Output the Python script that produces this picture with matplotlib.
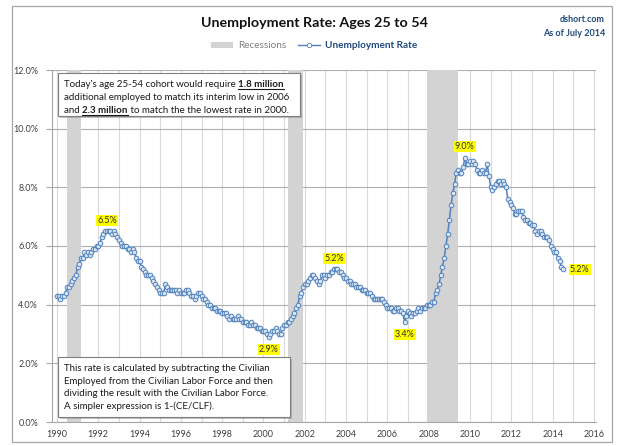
import matplotlib
matplotlib.use("Agg")
import matplotlib.pyplot as plt
import numpy as np
from matplotlib.lines import Line2D
from matplotlib.patches import Patch, Rectangle

# Arbeitslosenquote 25-54, monatlich Jan 1990 bis Jul 2014
start_year = 1990
rate = [
    4.3, 4.3, 4.2, 4.3, 4.3, 4.4, 4.6, 4.6, 4.7, 4.8, 4.9, 5.0,  # 1990
    5.3, 5.4, 5.6, 5.6, 5.8, 5.7, 5.8, 5.7, 5.8, 5.9, 5.9, 6.0,  # 1991
    6.0, 6.1, 6.3, 6.4, 6.5, 6.5, 6.5, 6.5, 6.4, 6.5, 6.4, 6.3,  # 1992
    6.2, 6.1, 6.0, 6.0, 6.0, 5.9, 5.9, 5.8, 5.9, 5.8, 5.6, 5.5,  # 1993
    5.5, 5.3, 5.2, 5.1, 5.0, 5.0, 5.0, 4.9, 4.8, 4.7, 4.6, 4.5,  # 1994
    4.4, 4.4, 4.4, 4.7, 4.6, 4.5, 4.5, 4.5, 4.5, 4.5, 4.4, 4.5,  # 1995
    4.4, 4.4, 4.4, 4.5, 4.5, 4.4, 4.3, 4.3, 4.2, 4.3, 4.4, 4.4,  # 1996
    4.3, 4.2, 4.2, 4.1, 4.0, 4.0, 3.9, 3.9, 3.9, 3.8, 3.8, 3.8,  # 1997
    3.7, 3.7, 3.7, 3.6, 3.5, 3.6, 3.5, 3.5, 3.5, 3.6, 3.5, 3.5,  # 1998
    3.4, 3.4, 3.4, 3.3, 3.3, 3.4, 3.3, 3.3, 3.2, 3.2, 3.2, 3.1,  # 1999
    3.1, 3.1, 3.0, 2.9, 3.0, 3.1, 3.1, 3.2, 3.1, 3.0, 3.0, 3.2,  # 2000
    3.3, 3.3, 3.4, 3.4, 3.5, 3.6, 3.7, 3.9, 4.0, 4.3, 4.4, 4.6,  # 2001
    4.7, 4.7, 4.8, 4.9, 5.0, 5.0, 4.9, 4.8, 4.7, 4.8, 5.0, 5.0,  # 2002
    4.9, 5.0, 5.0, 5.1, 5.1, 5.2, 5.2, 5.2, 5.1, 5.1, 5.0, 4.9,  # 2003
    4.9, 4.8, 4.8, 4.7, 4.7, 4.7, 4.6, 4.6, 4.6, 4.5, 4.5, 4.5,  # 2004
    4.4, 4.4, 4.4, 4.3, 4.2, 4.2, 4.2, 4.2, 4.2, 4.2, 4.1, 4.0,  # 2005
    3.9, 3.9, 3.9, 3.8, 3.8, 3.9, 3.9, 3.8, 3.8, 3.7, 3.4, 3.6,  # 2006
    3.8, 3.7, 3.6, 3.7, 3.7, 3.8, 3.9, 3.8, 3.9, 3.9, 3.9, 4.0,  # 2007
    4.0, 4.0, 4.1, 4.1, 4.4, 4.5, 4.7, 5.0, 5.3, 5.6, 6.0, 6.4,  # 2008
    6.9, 7.4, 7.8, 8.1, 8.5, 8.6, 8.5, 8.5, 8.7, 9.0, 8.8, 8.8,  # 2009
    8.9, 8.8, 8.9, 8.8, 8.6, 8.5, 8.5, 8.6, 8.5, 8.5, 8.8, 8.4,  # 2010
    8.0, 7.9, 8.0, 8.1, 8.2, 8.2, 8.1, 8.2, 8.1, 8.0, 7.6, 7.5,  # 2011
    7.4, 7.3, 7.1, 7.1, 7.2, 7.2, 7.2, 7.0, 6.9, 6.9, 6.8, 6.8,  # 2012
    6.7, 6.7, 6.5, 6.4, 6.5, 6.5, 6.4, 6.3, 6.3, 6.3, 6.2, 6.0,  # 2013
    5.9, 5.8, 5.8, 5.6, 5.5, 5.3, 5.2,                           # 2014
]

# Rezessionen (Beginn, Ende) in Dezimaljahren
recessions = [(1990.5, 1991.17), (2001.17, 2001.92), (2007.92, 2009.42)]

# hervorgehobene Werte: (Index im Array, Text, Versatz in Punkten)
highlights = [
    (29, "6.5%", (0, 8)),
    (123, "2.9%", (0, -9)),
    (161, "5.2%", (0, 8)),
    (202, "3.4%", (0, -9)),
    (237, "9.0%", (0, 8)),
    (len(rate) - 1, "5.2%", (5, 0)),
]

title = "Unemployment Rate: Ages 25 to 54"
top_note = [
    [("Today's age 25-54 cohort would require ", False), ("1.8 million", True)],
    [("additional employed to match its interim low in 2006", False)],
    [("and ", False), ("2.3 million", True), (" to match the the lowest rate in 2000.", False)],
]
bottom_note = [
    "This rate is calculated by subtracting the Civilian",
    "Employed from the Civilian Labor Force and then",
    "dividing the result with the Civilian Labor Force.",
    "A simpler expression is 1-(CE/CLF).",
]

plt.rcParams["font.family"] = ["Lato", "DejaVu Sans"]

W, H = 624, 446
blue = "#4F81BD"
navy = "#1F497D"
ink = "#1A1A1A"


def fx(x):
    return x / W


def fy(y):
    return 1 - y / H


years = start_year + np.arange(len(rate)) / 12.0

fig = plt.figure(figsize=(W / 100, H / 100), dpi=100)
ax = fig.add_axes([fx(52), fy(422), fx(596) - fx(52), fy(70) - fy(422)])
renderer = fig.canvas.get_renderer()


def fit_size(txt, width_px, bold=False):
    # Schriftgroesse so waehlen, dass der Text ungefaehr die Breite im Original hat
    t = fig.text(0, 0, txt, fontsize=10, fontweight="bold" if bold else "normal")
    w = t.get_window_extent(renderer).width
    t.remove()
    return 10 * width_px / w


# Rahmen um die ganze Grafik
fig.patches.append(Rectangle((fx(12), fy(442)), fx(612) - fx(12), fy(6) - fy(442),
                             transform=fig.transFigure, fill=False,
                             edgecolor="#A6A6A6", linewidth=0.9))

for a, b in recessions:
    ax.axvspan(a, b, color="#D3D3D3", zorder=1, linewidth=0)

ax.plot(years, rate, color=blue, linewidth=1.1, marker="o", markersize=3.3,
        markerfacecolor="#DCE6F2", markeredgecolor=blue, markeredgewidth=0.7, zorder=3)

for i, txt, off in highlights:
    ha = "left" if off[0] > 0 else "center"
    ax.annotate(txt, (years[i], rate[i]), xytext=off, textcoords="offset points",
                ha=ha, va="center", fontsize=6.5, color="#333333",
                bbox=dict(boxstyle="square,pad=0.12", facecolor="#FFFF00", edgecolor="none"),
                zorder=5)

ax.set_xlim(1989.76, 2016.1)
ax.set_ylim(0, 12)
ax.set_xticks(np.arange(1990, 2017, 2))
ax.set_xticks(np.arange(1990, 2017, 1), minor=True)
ax.set_yticks(np.arange(0, 12.1, 2))
ax.set_yticklabels([f"{v:.1f}%" for v in np.arange(0, 12.1, 2)])
ax.tick_params(axis="x", which="both", length=0, labelsize=6.5, colors="#404040", pad=6)
ax.tick_params(axis="y", length=4, color="#A6A6A6", labelsize=6.5, labelcolor="#404040", pad=6)
ax.grid(axis="x", which="both", color="#D9D9D9", linewidth=0.8, zorder=0)
ax.grid(axis="y", which="major", color="#B0B0B0", linewidth=0.8, zorder=0)
ax.set_axisbelow(True)
for s in ["top", "right"]:
    ax.spines[s].set_visible(False)
for s in ["left", "bottom"]:
    ax.spines[s].set_color("#A6A6A6")
    ax.spines[s].set_linewidth(0.8)

fig.text(fx(314), fy(23), title, ha="center", va="center",
         fontsize=fit_size(title, 228, True), fontweight="bold", color="#111111")
corner_size = fit_size("As of July 2014", 62, True)
fig.text(fx(605), fy(20), "dshort.com", ha="right", va="center", fontsize=corner_size,
         fontweight="bold", color=navy)
fig.text(fx(605), fy(33), "As of July 2014", ha="right", va="center", fontsize=corner_size,
         fontweight="bold", color=navy)

handles = [Patch(facecolor="#D3D3D3", edgecolor="none"),
           Line2D([], [], color=blue, linewidth=1.0, marker="o", markersize=3.2,
                  markerfacecolor="white", markeredgecolor=blue, markeredgewidth=0.6)]
leg = fig.legend(handles, ["Recessions", "Unemployment Rate"], ncol=2, loc="center",
                 bbox_to_anchor=(fx(314), fy(46)), frameon=False,
                 fontsize=fit_size("Unemployment Rate", 92, True),
                 handlelength=2.2, handleheight=0.6, columnspacing=1.2, handletextpad=0.5)
leg.get_texts()[0].set_color("#7F7F7F")
leg.get_texts()[1].set_color(navy)
leg.get_texts()[1].set_fontweight("bold")


def note_box(x0, y0, x1, y1):
    fig.patches.append(Rectangle((fx(x0 + 2), fy(y1 + 2)), fx(x1) - fx(x0), fy(y0) - fy(y1),
                                 transform=fig.transFigure, facecolor="#9A9A9A",
                                 edgecolor="none", alpha=0.6, zorder=8))
    fig.patches.append(Rectangle((fx(x0), fy(y1)), fx(x1) - fx(x0), fy(y0) - fy(y1),
                                 transform=fig.transFigure, facecolor="white",
                                 edgecolor="#7F7F7F", linewidth=0.8, zorder=9))


note_box(58, 73, 300, 116)
note_box(58, 357, 290, 417)

note_size = fit_size(bottom_note[0], 206)

# obere Notiz: Teilstuecke nebeneinander setzen, fette Zahlen unterstreichen
for k, line in enumerate(top_note):
    x = 64
    base = 87 + k * 13
    for txt, bold in line:
        t = fig.text(fx(x), fy(base), txt, fontsize=note_size, color=ink, va="baseline",
                     ha="left", fontweight="bold" if bold else "normal", zorder=10)
        w = t.get_window_extent(renderer).width
        if bold:
            fig.add_artist(Line2D([fx(x), fx(x + w)], [fy(base + 1.8), fy(base + 1.8)],
                                  transform=fig.transFigure, color=ink, linewidth=0.8,
                                  zorder=11))
        x += w

for k, line in enumerate(bottom_note):
    fig.text(fx(64), fy(371 + k * 12.6), line, fontsize=note_size, color=ink,
             va="baseline", ha="left", zorder=10)

fig.savefig("out.png", dpi=100)
